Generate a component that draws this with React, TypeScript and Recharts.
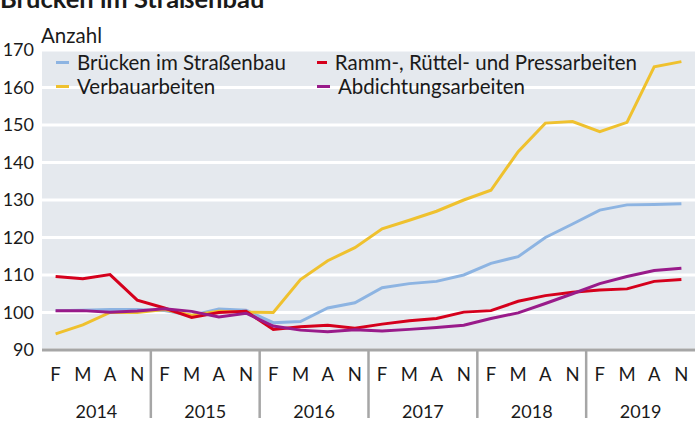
import React from "react";
import { LineChart, Line, XAxis, YAxis, CartesianGrid } from "recharts";

const quarters = ["F", "M", "A", "N"];
const years = ["2014", "2015", "2016", "2017", "2018", "2019"];
const yTicks = [90, 100, 110, 120, 130, 140, 150, 160, 170];

const bruecken = [100.5, 100.6, 100.8, 100.8, 100.5, 99.2, 100.9, 100.6, 97.3, 97.6, 101.2, 102.6, 106.6, 107.7, 108.3, 110.0, 113.1, 114.9, 120.0, 123.6, 127.3, 128.7, 128.8, 129.0];
const ramm = [109.6, 109.0, 110.1, 103.3, 101.2, 98.7, 100.0, 100.3, 95.5, 96.2, 96.6, 95.8, 96.9, 97.8, 98.4, 100.1, 100.5, 103.0, 104.5, 105.4, 106.0, 106.3, 108.3, 108.8];
const verbau = [94.3, 96.7, 100.0, 100.0, 100.8, 99.3, 100.3, 100.1, 100.0, 108.8, 113.8, 117.3, 122.3, 124.6, 127.0, 130.0, 132.6, 142.9, 150.5, 150.9, 148.2, 150.7, 165.5, 166.9];
const abdichtung = [100.5, 100.5, 100.1, 100.4, 101.0, 100.3, 98.8, 99.8, 96.4, 95.3, 94.9, 95.4, 95.1, 95.5, 96.0, 96.6, 98.4, 99.9, 102.4, 105.0, 107.7, 109.6, 111.2, 111.8];

const seriesDefs = [
  { key: "bruecken", name: "Brücken im Straßenbau", color: "#8db4e2", values: bruecken },
  { key: "verbau", name: "Verbauarbeiten", color: "#efc12e", values: verbau },
  { key: "ramm", name: "Ramm-, Rüttel- und Pressarbeiten", color: "#d5001c", values: ramm },
  { key: "abdichtung", name: "Abdichtungsarbeiten", color: "#991b8a", values: abdichtung },
];

const categories: { q: string; y: string }[] = [];
years.forEach((y) => quarters.forEach((q) => categories.push({ q, y })));

const data = categories.map((c, i) => {
  const row: any = { cat: `${c.q} ${c.y}`, q: c.q, year: c.y };
  seriesDefs.forEach((s) => (row[s.key] = s.values[i]));
  return row;
});

const FONT = "Lato, 'Noto Sans', sans-serif";
const FS = 20.5;
const AFS = 17.5;
const W = 695;
const H = 430;
const Y_AXIS_W = 42;
const BAND = (W - Y_AXIS_W) / data.length;

const XTick = (props: any) => {
  const { x, y, payload } = props;
  const i = payload.index;
  const c = categories[i];
  return (
    <g>
      <text x={x} y={y + 31} textAnchor="middle" fontSize={AFS + 1} fontFamily={FONT} fill="#1a1a1a">
        {c.q}
      </text>
      {i % 4 === 1 && (
        <text x={x + BAND / 2} y={y + 68} textAnchor="middle" fontSize={AFS + 0.5} fontFamily={FONT} fill="#1a1a1a">
          {c.y}
        </text>
      )}
      {i % 4 === 0 && i > 0 && (
        <line x1={x - BAND / 2} x2={x - BAND / 2} y1={y} y2={y + 68} stroke="#a6a6a6" strokeWidth={2.5} />
      )}
    </g>
  );
};

const legendOrder = [seriesDefs[0], seriesDefs[2], seriesDefs[1], seriesDefs[3]];

export default function App() {
  return (
    <div style={{ position: "absolute", left: 0, top: 0, width: W, height: H, overflow: "hidden", background: "#fff" }}>
      <LineChart width={W} height={H} data={data} margin={{ top: 50, right: 0, bottom: 0, left: 0 }}>
        <CartesianGrid vertical={false} stroke="#ffffff" strokeWidth={3} fill="#e5e9ee" />
        <XAxis
          dataKey="cat"
          height={80}
          interval={0}
          tickLine={false}
          tickSize={0}
          tickMargin={0}
          padding={{ left: BAND / 2, right: BAND / 2 }}
          axisLine={{ stroke: "#a6a6a6", strokeWidth: 3 }}
          tick={<XTick />}
        />
        <YAxis
          width={Y_AXIS_W}
          domain={[90, 170]}
          ticks={yTicks}
          interval={0}
          axisLine={false}
          tickLine={false}
          tick={{ fontSize: AFS + 0.5, fontFamily: FONT, fill: "#1a1a1a" }}
        />
        {seriesDefs.map((s) => (
          <Line
            key={s.key}
            dataKey={s.key}
            name={s.name}
            stroke={s.color}
            strokeWidth={3}
            dot={false}
            activeDot={false}
            isAnimationActive={false}
          />
        ))}
      </LineChart>
      <svg width={W} height={50} style={{ position: "absolute", left: 0, top: 0 }}>
        <text x={0} y={8} fontFamily={FONT} fontWeight={700} fontSize={25.5} fill="#1a1a1a">
          Brücken im Straßenbau
        </text>
        <text x={41} y={43} fontFamily={FONT} fontSize={FS} fill="#1a1a1a">
          Anzahl
        </text>
      </svg>
      <div
        style={{
          position: "absolute",
          left: 56,
          top: 50,
          display: "grid",
          gridTemplateColumns: "261px 320px",
          fontFamily: FONT,
          fontSize: FS,
          color: "#1a1a1a",
          lineHeight: "24px",
        }}
      >
        {legendOrder.map((s) => (
          <div key={s.key} style={{ display: "flex", alignItems: "center", whiteSpace: "nowrap" }}>
            <span style={{ display: "inline-block", width: 13, height: 3, background: s.color, marginRight: 8 }} />
            <span>{s.name}</span>
          </div>
        ))}
      </div>
    </div>
  );
}
